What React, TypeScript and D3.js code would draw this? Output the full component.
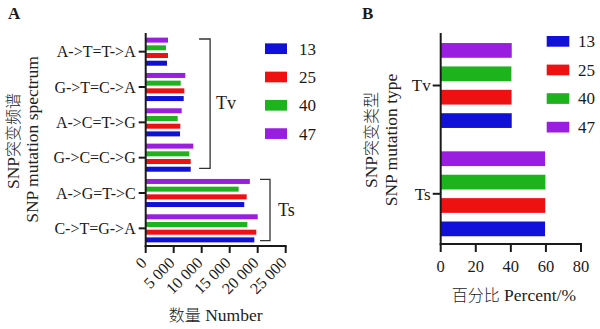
import React from 'react';
import * as d3 from 'd3';

const categories = ['A->T=T->A', 'G->T=C->A', 'A->C=T->G', 'G->C=C->G', 'A->G=T->C', 'C->T=G->A'];
const seriesNames = ['13', '25', '40', '47'];
const count13 = [3800, 6790, 6130, 8040, 17600, 19400];
const count25 = [3980, 6900, 6180, 8040, 18030, 19750];
const count40 = [3620, 6250, 5710, 7790, 16600, 18150];
const count47 = [3980, 7070, 6430, 8500, 18600, 20000];
const countTicks = [0, 5000, 10000, 15000, 20000, 25000];

const typeCategories = ['Tv', 'Ts'];
const percent13 = [40.5, 59.5];
const percent25 = [40.4, 59.6];
const percent40 = [40.3, 59.7];
const percent47 = [40.5, 59.5];
const percentTicks = [0, 20, 40, 60, 80];

const colors = ['#1010d8', '#ee1111', '#1db31d', '#9a1ee0'];

const SERIF = "Liberation Serif, Times New Roman, serif";
const CJK = "Noto Sans CJK SC, sans-serif";
const INK = '#1a1a1a';

const countSeries = [count13, count25, count40, count47];
const percentSeries = [percent13, percent25, percent40, percent47];
const stackOrder = ['47', '40', '25', '13'];

function fmtCount(d: number) {
  return d === 0 ? '0' : d3.format(',')(d).replace(/,/g, ' ');
}

const T = (props: any) => <text fontFamily={SERIF} fill={INK} {...props} />;
const C = (props: any) => <tspan fontFamily={CJK} fontSize={16} fontWeight={300} {...props} />;

export default function App() {
  // Panel A scales
  const xA = d3.scaleLinear().domain([0, 25000]).range([145.7, 285.7]);
  const yA = d3.scaleBand().domain(categories).range([34, 246]);
  const innerA = d3.scaleBand().domain(stackOrder).range([0, yA.bandwidth()]).paddingInner(0.35).paddingOuter(0.47);
  const legA = d3.scaleBand().domain(seriesNames).range([34.5, 147.7]);

  // Panel B scales
  const xB = d3.scaleLinear().domain([0, 80]).range([440.7, 581]);
  const yB = d3.scaleBand().domain(typeCategories).range([31.35, 247.95]);
  const innerB = d3.scaleBand().domain(stackOrder).range([0, yB.bandwidth()]).paddingInner(0.37).paddingOuter(0.5);
  const legB = d3.scaleBand().domain(seriesNames).range([27, 141.4]);

  const axisA = { top: 33, bottom: 246 };
  const axisB = { top: 33, bottom: 244 };

  const tvTop = (yA(categories[0]) as number) + 5;
  const tvBottom = (yA(categories[3]) as number) + yA.bandwidth() - 7;
  const tsTop = (yA(categories[4]) as number) + 4;
  const tsBottom = (yA(categories[5]) as number) + yA.bandwidth() - 5.3;
  const tvX = xA(11500);
  const tsX = xA(22200);

  return (
    <svg width={600} height={329} style={{ position: 'absolute', left: 0, top: 0, background: '#fff' }}>
      <rect x={0} y={0} width={600} height={329} fill="#fff" />
      {/* Panel letters */}
      <T x={8} y={19} fontSize={17} fontWeight="bold">A</T>
      <T x={362} y={19} fontSize={17} fontWeight="bold">B</T>

      {/* ===== Panel A ===== */}
      {categories.map((c, ci) =>
        countSeries.map((vals, si) => (
          <rect
            key={`a-${ci}-${si}`}
            x={xA(0)}
            y={(yA(c) as number) + (innerA(seriesNames[si]) as number)}
            width={xA(vals[ci]) - xA(0)}
            height={innerA.bandwidth()}
            fill={colors[si]}
          />
        ))
      )}
      {/* axes A */}
      <line x1={xA(0)} x2={xA(0)} y1={axisA.top} y2={axisA.bottom + 1} stroke={INK} strokeWidth={2} />
      <line x1={xA(0) - 1} x2={xA(25000) + 1} y1={axisA.bottom} y2={axisA.bottom} stroke={INK} strokeWidth={2} />
      {categories.map((c) => {
        const y = (yA(c) as number) + yA.bandwidth() / 2;
        return (
          <g key={`ya-${c}`}>
            <line x1={xA(0) - 7} x2={xA(0)} y1={y} y2={y} stroke={INK} strokeWidth={2} />
            <T x={xA(0) - 10} y={y} dy="0.35em" textAnchor="end" fontSize={16}>{c}</T>
          </g>
        );
      })}
      {countTicks.map((t) => (
        <g key={`xa-${t}`}>
          <line x1={xA(t)} x2={xA(t)} y1={axisA.bottom} y2={axisA.bottom + 7} stroke={INK} strokeWidth={2} />
          <T
            transform={`translate(${xA(t) - 2},${axisA.bottom + 14}) rotate(-45)`}
            dy="0.35em"
            textAnchor="end"
            fontSize={16}
          >
            {fmtCount(t)}
          </T>
        </g>
      ))}
      {/* brackets */}
      <path d={`M${tvX - 11},${tvTop}H${tvX}V${tvBottom}H${tvX - 11}`} fill="none" stroke="#333" strokeWidth={1.3} />
      <T x={tvX + 6} y={103} dy="0.35em" fontSize={18}>Tv</T>
      <path d={`M${tsX - 10},${tsTop}H${tsX}V${tsBottom}H${tsX - 10}`} fill="none" stroke="#333" strokeWidth={1.3} />
      <T x={tsX + 8} y={210} dy="0.35em" fontSize={18}>Ts</T>
      {/* legend A */}
      {seriesNames.map((s, i) => {
        const y = (legA(s) as number) + legA.bandwidth() / 2;
        return (
          <g key={`la-${s}`}>
            <rect x={265} y={y - 5.3} width={22} height={10.7} fill={colors[i]} />
            <T x={299} y={y} dy="0.35em" fontSize={17}>{s}</T>
          </g>
        );
      })}
      {/* axis titles A */}
      <T transform={`translate(18.5,141) rotate(-90)`} textAnchor="middle" fontSize={17.5} fill="#222">
        SNP<C>突变频谱</C>
      </T>
      <T transform={`translate(38,139.5) rotate(-90)`} textAnchor="middle" fontSize={17.5} fill="#222">
        SNP mutation spectrum
      </T>
      <T x={(xA(0) + xA(25000)) / 2} y={321} textAnchor="middle" fontSize={17.5} fill="#222">
        <C>数量</C> Number
      </T>

      {/* ===== Panel B ===== */}
      {typeCategories.map((c, ci) =>
        percentSeries.map((vals, si) => (
          <rect
            key={`b-${ci}-${si}`}
            x={xB(0)}
            y={(yB(c) as number) + (innerB(seriesNames[si]) as number)}
            width={xB(vals[ci]) - xB(0)}
            height={innerB.bandwidth()}
            fill={colors[si]}
          />
        ))
      )}
      <line x1={xB(0)} x2={xB(0)} y1={axisB.top} y2={axisB.bottom + 1} stroke={INK} strokeWidth={2} />
      <line x1={xB(0) - 1} x2={xB(80) + 1} y1={axisB.bottom} y2={axisB.bottom} stroke={INK} strokeWidth={2} />
      {typeCategories.map((c) => {
        const y = (yB(c) as number) + yB.bandwidth() / 2;
        return (
          <g key={`yb-${c}`}>
            <line x1={xB(0) - 8} x2={xB(0)} y1={y} y2={y} stroke={INK} strokeWidth={2} />
            <T x={xB(0) - 10} y={y} dy="0.35em" textAnchor="end" fontSize={17}>{c}</T>
          </g>
        );
      })}
      {percentTicks.map((t) => (
        <g key={`xb-${t}`}>
          <line x1={xB(t)} x2={xB(t)} y1={axisB.bottom} y2={axisB.bottom + 8} stroke={INK} strokeWidth={2} />
          <T x={xB(t)} y={272} textAnchor="middle" fontSize={16.5}>{t}</T>
        </g>
      ))}
      {seriesNames.map((s, i) => {
        const y = (legB(s) as number) + legB.bandwidth() / 2;
        return (
          <g key={`lb-${s}`}>
            <rect x={546.7} y={y - 5.3} width={22.6} height={10.7} fill={colors[i]} />
            <T x={578} y={y} dy="0.35em" fontSize={17}>{s}</T>
          </g>
        );
      })}
      <T transform={`translate(377,140) rotate(-90)`} textAnchor="middle" fontSize={17.5} fill="#222">
        SNP<C>突变类型</C>
      </T>
      <T transform={`translate(397,140) rotate(-90)`} textAnchor="middle" fontSize={17.5} fill="#222">
        SNP mutation type
      </T>
      <T x={(xB(0) + xB(80)) / 2 + 3} y={301} textAnchor="middle" fontSize={17.5} fill="#222">
        <C>百分比</C> Percent/%
      </T>
    </svg>
  );
}
